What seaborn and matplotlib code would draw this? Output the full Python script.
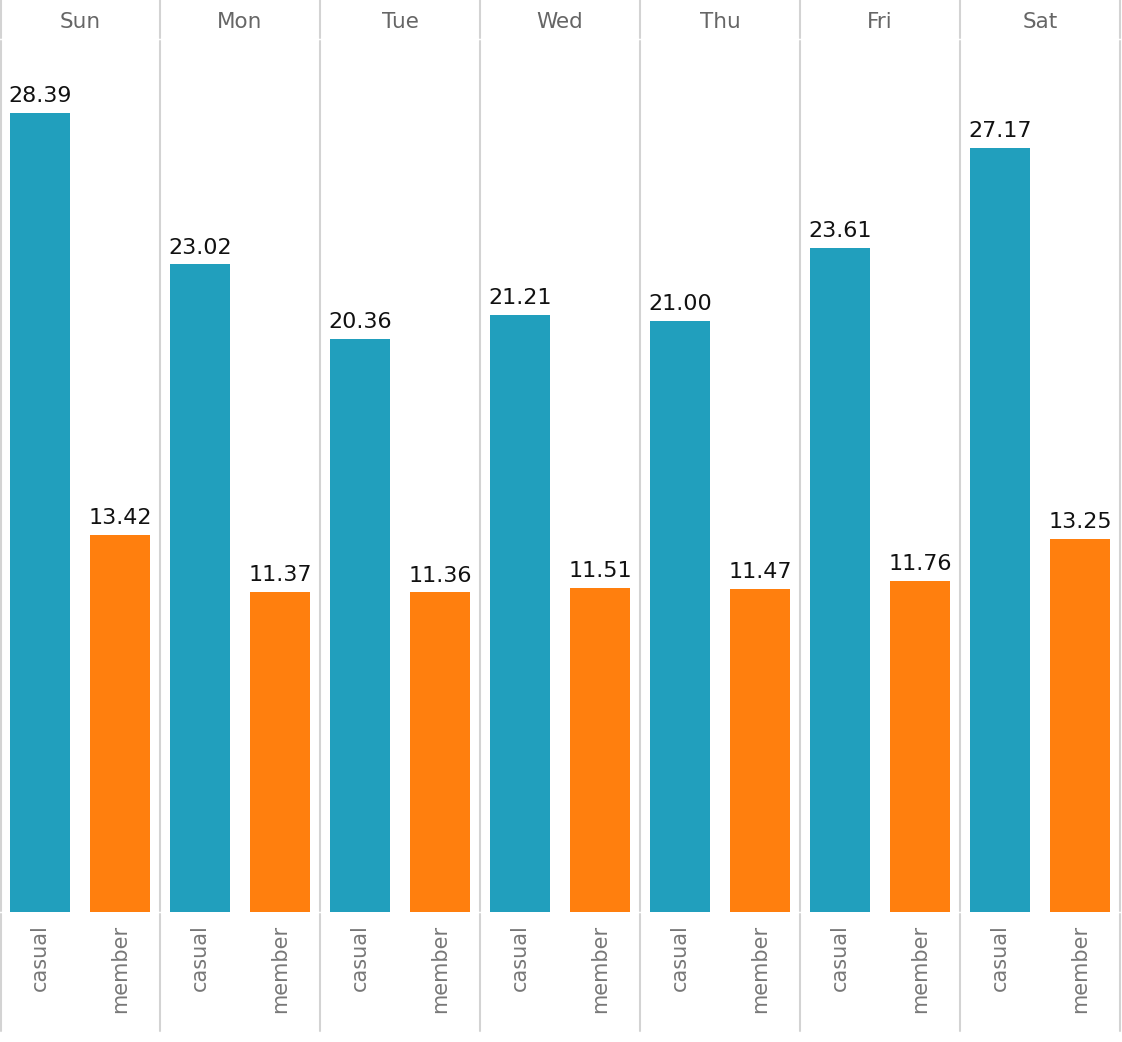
import pandas as pd
import matplotlib
matplotlib.use("Agg")
import matplotlib.pyplot as plt
from matplotlib.lines import Line2D
import seaborn as sns

DAYS = ["Sun", "Mon", "Tue", "Wed", "Thu", "Fri", "Sat"]
RIDER_TYPES = ["casual", "member"]
CASUAL_AVG = [28.39, 23.02, 20.36, 21.21, 21.00, 23.61, 27.17]
MEMBER_AVG = [13.42, 11.37, 11.36, 11.51, 11.47, 11.76, 13.25]

COLORS = {"casual": "#219fbd", "member": "#ff7f0e"}
GRID_COLOR = "#d3d3d3"

W, H = 1122, 1042
PANEL_W = 160
PLOT_TOP, PLOT_BOTTOM = 40, 912


def build_df() -> pd.DataFrame:
    rows = []
    for day, c, m in zip(DAYS, CASUAL_AVG, MEMBER_AVG):
        rows.append({"day": day, "rider": "casual", "avg": c})
        rows.append({"day": day, "rider": "member", "avg": m})
    return pd.DataFrame(rows)


def vline(fig, x_px, y0_px, y1_px):
    fig.add_artist(
        Line2D(
            [x_px / W, x_px / W],
            [1 - y0_px / H, 1 - y1_px / H],
            transform=fig.transFigure,
            color=GRID_COLOR,
            linewidth=1.5,
        )
    )


def main() -> None:
    sns.set_theme(style="white")
    plt.rcParams["font.family"] = ["DejaVu Sans"]

    df = build_df()
    fig = plt.figure(figsize=(W / 100, H / 100), dpi=100)

    for i, day in enumerate(DAYS):
        ax = fig.add_axes(
            [i * PANEL_W / W, 1 - PLOT_BOTTOM / H, PANEL_W / W, (PLOT_BOTTOM - PLOT_TOP) / H]
        )
        sub = df[df["day"] == day]
        sns.barplot(
            data=sub,
            x="rider",
            y="avg",
            hue="rider",
            order=RIDER_TYPES,
            hue_order=RIDER_TYPES,
            palette=COLORS,
            width=0.75,
            saturation=1,
            linewidth=0,
            edgecolor="none",
            legend=False,
            ax=ax,
        )
        for cont in ax.containers:
            ax.bar_label(cont, fmt="%.2f", padding=5, fontsize=16, color="#111111")
        ax.set_xlim(-0.5, 1.5)
        ax.set_ylim(0, 31)
        ax.set_xlabel("")
        ax.set_ylabel("")
        ax.set_yticks([])
        ax.tick_params(axis="x", length=0, pad=9, labelsize=15, labelcolor="#777777")
        plt.setp(ax.get_xticklabels(), rotation=90, va="top", ha="center")
        ax.patch.set_alpha(0)
        for s in ax.spines.values():
            s.set_visible(False)

        fig.text(
            (i * PANEL_W + PANEL_W / 2) / W,
            1 - 22 / H,
            day,
            ha="center",
            va="center",
            fontsize=15.5,
            color="#666666",
        )

    for i in range(len(DAYS) + 1):
        x = max(i * PANEL_W, 1)
        vline(fig, x, 0, 38)
        vline(fig, x, 41, 911)
        vline(fig, x, 914, 1031)

    fig.savefig("out.png", dpi=100)
    plt.close(fig)


if __name__ == "__main__":
    main()
